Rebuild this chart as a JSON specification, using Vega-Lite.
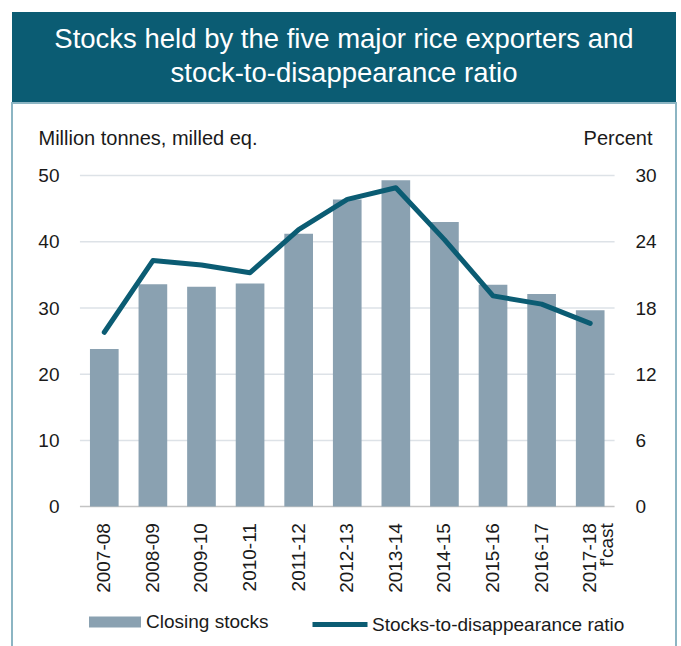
{
  "$schema": "https://vega.github.io/schema/vega-lite/v6.json",
  "padding": {"left": 11, "top": 12, "right": 6, "bottom": 0},
  "background": "white",
  "spacing": 0,
  "config": {"font": "Liberation Sans", "view": {"stroke": null}, "concat": {"spacing": 0}},
  "datasets": {
    "main": [
      {"cat": "2007-08", "stocks": 23.8, "ratio": 15.8},
      {"cat": "2008-09", "stocks": 33.6, "ratio": 22.3},
      {"cat": "2009-10", "stocks": 33.2, "ratio": 21.9},
      {"cat": "2010-11", "stocks": 33.7, "ratio": 21.2},
      {"cat": "2011-12", "stocks": 41.2, "ratio": 25.1},
      {"cat": "2012-13", "stocks": 46.4, "ratio": 27.85},
      {"cat": "2013-14", "stocks": 49.3, "ratio": 28.9},
      {"cat": "2014-15", "stocks": 43.0, "ratio": 24.2},
      {"cat": "2015-16", "stocks": 33.5, "ratio": 19.1},
      {"cat": "2016-17", "stocks": 32.1, "ratio": 18.35},
      {"cat": "2017-18", "stocks": 29.65, "ratio": 16.6}
    ],
    "grid": [
      {"v": 0, "cat": "2007-08", "to": "2017-18"},
      {"v": 10, "cat": "2007-08", "to": "2017-18"},
      {"v": 20, "cat": "2007-08", "to": "2017-18"},
      {"v": 30, "cat": "2007-08", "to": "2017-18"},
      {"v": 40, "cat": "2007-08", "to": "2017-18"},
      {"v": 50, "cat": "2007-08", "to": "2017-18"}
    ],
    "title": [
      {"line": 1, "text": "Stocks held by the five major rice exporters and"},
      {"line": 2, "text": "stock-to-disappearance ratio"}
    ]
  },
  "vconcat": [
    {
      "width": 664,
      "height": 90,
      "view": {"fill": "#0b5c73", "stroke": null},
      "data": {"name": "title"},
      "mark": {"type": "text", "color": "#ffffff", "fontSize": 27.5, "baseline": "middle", "align": "center"},
      "encoding": {
        "y": {"field": "line", "type": "ordinal", "axis": null, "scale": {"padding": 0.82}},
        "text": {"field": "text"}
      }
    },
    {
      "width": 664,
      "height": 546,
      "view": {"stroke": "#8cb5c3", "strokeWidth": 2},
      "resolve": {"scale": {"y": "independent"}},
      "layer": [
        {
          "data": {"name": "grid"},
          "mark": {"type": "rule", "strokeWidth": 1.5},
          "encoding": {
            "y": {"field": "v", "type": "quantitative", "axis": null, "scale": {"domain": [-21.51, 60.967], "nice": false, "zero": false}},
            "x": {
              "field": "cat", "type": "nominal", "bandPosition": -0.35,
              "scale": {"range": [68, 602.5], "paddingInner": 0.41, "paddingOuter": 0.205, "align": 0.5},
              "axis": {
                "orient": "bottom", "offset": -142.4, "labelAngle": -90, "labelPadding": 16,
                "labelFontSize": 19, "labelColor": "#1a1a1a", "domain": false, "ticks": false,
                "grid": false, "title": null, "labelLineHeight": 17,
                "labelExpr": "datum.value === '2017-18' ? ['2017-18', \"f'cast\"] : datum.value"
              }
            },
            "x2": {"field": "to", "bandPosition": 1.35},
            "color": {"condition": {"test": "datum.v === 0", "value": "#c4c4c4"}, "value": "#dde2e7"}
          }
        },
        {
          "data": {"name": "main"},
          "mark": {"type": "bar"},
          "encoding": {
            "x": {
              "field": "cat", "type": "nominal",
              "scale": {"range": [68, 602.5], "paddingInner": 0.41, "paddingOuter": 0.205, "align": 0.5},
              "axis": {
                "orient": "bottom", "offset": -142.4, "labelAngle": -90, "labelPadding": 16,
                "labelFontSize": 19, "labelColor": "#1a1a1a", "domain": false, "ticks": false,
                "grid": false, "title": null, "labelLineHeight": 17,
                "labelExpr": "datum.value === '2017-18' ? ['2017-18', \"f'cast\"] : datum.value"
              }
            },
            "y": {
              "field": "stocks", "type": "quantitative",
              "scale": {"domain": [-21.51, 60.967], "nice": false, "zero": false},
              "axis": {
                "orient": "left", "values": [0, 10, 20, 30, 40, 50], "offset": -68, "labelPadding": 21,
                "domain": false, "ticks": false, "grid": false, "labelFontSize": 19, "labelColor": "#1a1a1a",
                "title": "Million tonnes, milled eq.", "titleFontSize": 20, "titleFontWeight": "normal",
                "titleColor": "#1a1a1a", "titleAngle": 0, "titleAlign": "left", "titleBaseline": "alphabetic",
                "titleX": -42, "titleY": 41.5
              }
            },
            "y2": {"datum": 0},
            "fill": {
              "datum": "Closing stocks",
              "scale": {"range": ["#8aa1b1"]},
              "legend": {
                "title": null, "orient": "none", "legendX": 77, "legendY": 584,
                "symbolType": "M-1,-0.212H1V0.212H-1Z", "symbolSize": 2704, "symbolStrokeWidth": 0,
                "labelFontSize": 19, "labelColor": "#1a1a1a", "labelOffset": 5, "padding": 0, "labelLimit": 400
              }
            }
          }
        },
        {
          "data": {"name": "main"},
          "mark": {"type": "line", "strokeWidth": 5, "strokeCap": "round", "strokeJoin": "round"},
          "encoding": {
            "x": {
              "field": "cat", "type": "nominal",
              "scale": {"range": [68, 602.5], "paddingInner": 0.41, "paddingOuter": 0.205, "align": 0.5},
              "axis": {
                "orient": "bottom", "offset": -142.4, "labelAngle": -90, "labelPadding": 16,
                "labelFontSize": 19, "labelColor": "#1a1a1a", "domain": false, "ticks": false,
                "grid": false, "title": null, "labelLineHeight": 17,
                "labelExpr": "datum.value === '2017-18' ? ['2017-18', \"f'cast\"] : datum.value"
              }
            },
            "y": {
              "field": "ratio", "type": "quantitative",
              "scale": {"domain": [-12.906, 36.58], "nice": false, "zero": false},
              "axis": {
                "orient": "right", "values": [0, 6, 12, 18, 24, 30], "offset": -62, "labelPadding": 21,
                "domain": false, "ticks": false, "grid": false, "labelFontSize": 19, "labelColor": "#1a1a1a",
                "title": "Percent", "titleFontSize": 20, "titleFontWeight": "normal",
                "titleColor": "#1a1a1a", "titleAngle": 0, "titleAlign": "right", "titleBaseline": "alphabetic",
                "titleX": 38, "titleY": 41.5
              }
            },
            "stroke": {
              "datum": "Stocks-to-disappearance ratio",
              "scale": {"range": ["#0b5c73"]},
              "legend": {
                "title": null, "orient": "none", "legendX": 298, "legendY": 582.5,
                "symbolType": "M-1,0H1", "symbolSize": 3025, "symbolStrokeWidth": 5,
                "labelFontSize": 19, "labelColor": "#1a1a1a", "labelOffset": 2, "padding": 0, "labelLimit": 400
              }
            }
          }
        }
      ]
    }
  ]
}
